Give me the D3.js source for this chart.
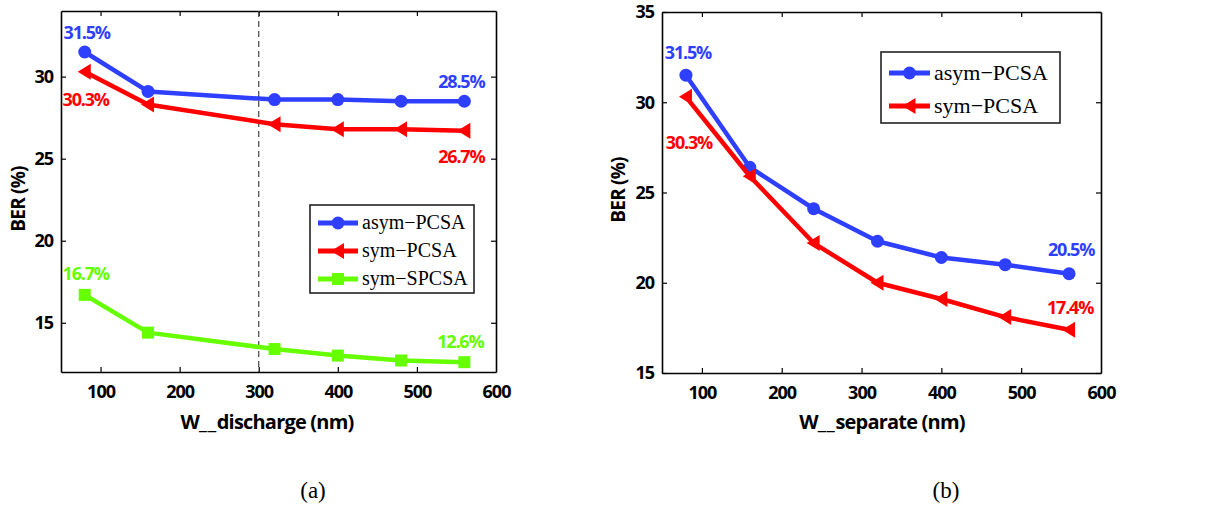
<!DOCTYPE html>
<html><head><meta charset="utf-8">
<script src="https://cdn.jsdelivr.net/npm/d3@7"></script>
<style>
body{margin:0;background:#fff;}
svg text{font-family:"Open Sans","Noto Sans",sans-serif;}
</style></head>
<body><svg id="c" width="1231" height="506"></svg>
<script>
// ---- data ----
const xA = [80, 160, 320, 400, 480, 560];
const asymA = [31.5, 29.1, 28.6, 28.6, 28.5, 28.5];
const symA = [30.3, 28.3, 27.1, 26.8, 26.8, 26.7];
const spcsaA = [16.7, 14.4, 13.4, 13.0, 12.7, 12.6];
const xB = [80, 160, 240, 320, 400, 480, 560];
const asymB = [31.5, 26.4, 24.1, 22.3, 21.4, 21.0, 20.5];
const symB = [30.3, 25.9, 22.2, 20.0, 19.1, 18.1, 17.4];
const xTicks = [100, 200, 300, 400, 500, 600];
const yTicksA = [15, 20, 25, 30];
const yTicksB = [15, 20, 25, 30, 35];
const seriesNames = ["asym\u2212PCSA", "sym\u2212PCSA", "sym\u2212SPCSA"];

const BLUE = "#2f3fff", RED = "#ff0000", GREEN = "#66ff00";
const svg = d3.select("#c");

function marker(g, type, color, x, y) {
  if (type === "circle") g.append("circle").attr("cx", x).attr("cy", y).attr("r", 6.5).attr("fill", color);
  else if (type === "tri") g.append("path").attr("d", `M${x-7},${y} L${x+6},${y-8} L${x+6},${y+8} Z`).attr("fill", color);
  else g.append("rect").attr("x", x-6).attr("y", y-6).attr("width", 12).attr("height", 12).attr("fill", color);
}

function panel(opts) {
  const {left, right, top, bottom, ydom, yticks, series, xlabel, xlabelX, ylabelX, ylabelY, caption, captionX} = opts;
  const x = d3.scaleLinear().domain([50, 600]).range([left, right]);
  const y = d3.scaleLinear().domain(ydom).range([bottom, top]);
  const g = svg.append("g");
  // axes
  const axB = g.append("g").attr("transform", `translate(0,${bottom})`)
    .call(d3.axisBottom(x).tickValues(xTicks).tickSizeInner(-5).tickSizeOuter(0).tickPadding(13));
  const axL = g.append("g").attr("transform", `translate(${left},0)`)
    .call(d3.axisLeft(y).tickValues(yticks).tickSizeInner(-5).tickSizeOuter(0).tickPadding(8));
  const axT = g.append("g").attr("transform", `translate(0,${top})`)
    .call(d3.axisTop(x).tickValues(xTicks).tickSizeInner(-5).tickSizeOuter(0).tickFormat(""));
  const axR = g.append("g").attr("transform", `translate(${right},0)`)
    .call(d3.axisRight(y).tickValues(yticks).tickSizeInner(-5).tickSizeOuter(0).tickFormat(""));
  [axB, axL, axT, axR].forEach(a => {
    a.select(".domain").attr("stroke", "#000").attr("stroke-width", 1.6);
    a.selectAll(".tick line").attr("stroke", "#000").attr("stroke-width", 1.2);
    a.selectAll("text").attr("font-size", 18).attr("font-weight", 700).attr("fill", "#000")
      .style("font-family", '"Open Sans",sans-serif').attr("letter-spacing", "-1");
  });
  axB.selectAll(".tick").filter(d => d === 600).select("line").remove();
  axT.selectAll(".tick").filter(d => d === 600).remove();
  if (opts.dashed) {
    g.append("line").attr("x1", x(300)).attr("x2", x(300)).attr("y1", top).attr("y2", bottom)
      .attr("stroke", "#444").attr("stroke-width", 1.2).attr("stroke-dasharray", "6,4");
  }
  const line = d3.line().x(d => x(d[0])).y(d => y(d[1]));
  series.forEach(s => {
    const pts = s.xs.map((v, i) => [v, s.vals[i]]);
    g.append("path").datum(pts).attr("d", line).attr("fill", "none").attr("stroke", s.color)
      .attr("stroke-width", 4.5).attr("stroke-linejoin", "round");
    pts.forEach(p => marker(g, s.m, s.color, x(p[0]), y(p[1])));
    s.labels.forEach(l => {
      g.append("text").attr("x", x(s.xs[l.i]) + l.dx).attr("y", y(s.vals[l.i]) + l.dy)
        .attr("text-anchor", "middle").attr("font-size", 18).attr("font-weight", 700)
        .attr("letter-spacing", "-1.2").attr("fill", s.color)
        .text(s.vals[l.i].toFixed(1) + "%");
    });
  });
  // legend
  const L = opts.legend;
  g.append("rect").attr("x", L.x).attr("y", L.y).attr("width", L.w).attr("height", L.h)
    .attr("fill", "#fff").attr("stroke", "#222").attr("stroke-width", 1.6);
  series.forEach((s, i) => {
    const ly = L.y + L.first + i * L.step;
    g.append("line").attr("x1", L.x + 8).attr("x2", L.x + 8 + L.len).attr("y1", ly).attr("y2", ly)
      .attr("stroke", s.color).attr("stroke-width", 5);
    marker(g, s.m, s.color, L.x + 8 + L.len / 2, ly);
    g.append("text").attr("x", L.x + 12 + L.len).attr("y", ly + L.fs * 0.32)
      .attr("font-size", L.fs).style("font-family", '"Liberation Serif","Times New Roman",serif')
      .attr("fill", "#000").text(s.name);
  });
  // labels
  const xl = g.append("text").attr("x", xlabelX).attr("y", 429).attr("text-anchor", "middle")
    .attr("font-size", 20).attr("font-weight", 700).attr("letter-spacing", "-0.8");
  const parts = xlabel.split("__");
  xl.append("tspan").text(parts[0]);
  xl.append("tspan").attr("letter-spacing", "0.6").text("__");
  xl.append("tspan").text(parts[1]);
  g.append("text").attr("transform", `translate(${ylabelX},${ylabelY}) rotate(-90)`)
    .attr("text-anchor", "middle").attr("font-size", 19).attr("font-weight", 700)
    .attr("letter-spacing", "-0.8").text("BER (%)");
  g.append("text").attr("x", captionX).attr("y", 498).attr("text-anchor", "middle")
    .attr("font-size", 23).style("font-family", '"Liberation Serif","Times New Roman",serif').text(caption);
}

panel({
  left: 61, right: 496, top: 11, bottom: 372, ydom: [12, 34], yticks: yTicksA, dashed: true,
  xlabel: "W__discharge (nm)", xlabelX: 267, ylabelX: 25, ylabelY: 199, caption: "(a)", captionX: 313,
  series: [
    {name: seriesNames[0], xs: xA, vals: asymA, color: BLUE, m: "circle",
      labels: [{i: 0, dx: 2, dy: -13}, {i: 5, dx: -3, dy: -13}]},
    {name: seriesNames[1], xs: xA, vals: symA, color: RED, m: "tri",
      labels: [{i: 0, dx: 1, dy: 34}, {i: 5, dx: -3, dy: 32}]},
    {name: seriesNames[2], xs: xA, vals: spcsaA, color: GREEN, m: "square",
      labels: [{i: 0, dx: 1, dy: -15}, {i: 5, dx: -4, dy: -14}]}
  ],
  legend: {x: 310, y: 205, w: 164, h: 88, first: 18, step: 28, len: 40, fs: 20}
});

panel({
  left: 662, right: 1101, top: 12, bottom: 373, ydom: [15, 35], yticks: yTicksB,
  xlabel: "W__separate (nm)", xlabelX: 882, ylabelX: 625, ylabelY: 190, caption: "(b)", captionX: 946,
  series: [
    {name: seriesNames[0], xs: xB, vals: asymB, color: BLUE, m: "circle",
      labels: [{i: 0, dx: 2, dy: -16}, {i: 6, dx: 2, dy: -18}]},
    {name: seriesNames[1], xs: xB, vals: symB, color: RED, m: "tri",
      labels: [{i: 0, dx: 3, dy: 52}, {i: 6, dx: 1, dy: -16}]}
  ],
  legend: {x: 881, y: 52, w: 179, h: 71, first: 21, step: 33, len: 41, fs: 22}
});
</script></body></html>
